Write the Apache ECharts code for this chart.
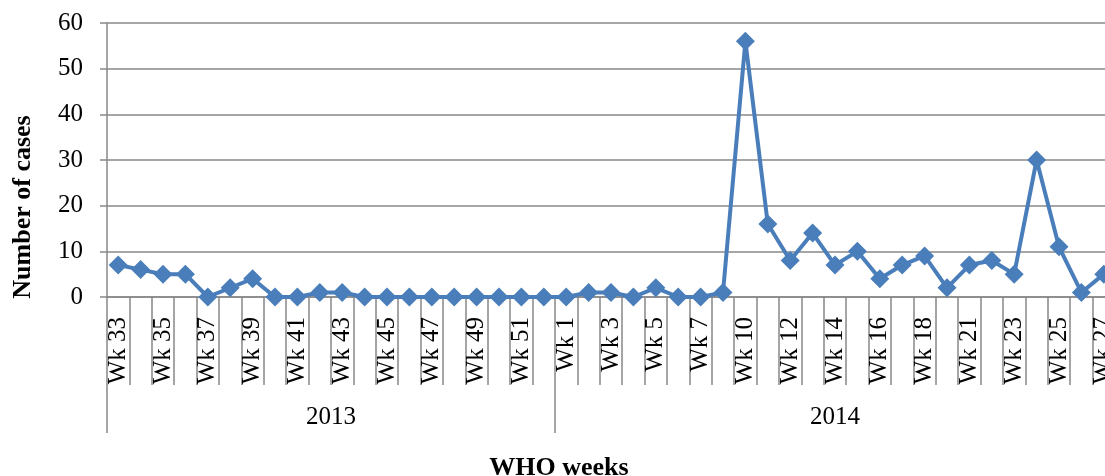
<!DOCTYPE html>
<html><head><meta charset="utf-8">
<script src="https://cdn.jsdelivr.net/npm/echarts@6/dist/echarts.min.js"></script>
<style>html,body{margin:0;padding:0;background:#fff;overflow:hidden}#c{width:1130px;height:476px}</style>
</head><body><div id="c"></div>
<script>
const weeks2013 = ['Wk 33','Wk 34','Wk 35','Wk 36','Wk 37','Wk 38','Wk 39','Wk 40','Wk 41','Wk 42','Wk 43','Wk 44','Wk 45','Wk 46','Wk 47','Wk 48','Wk 49','Wk 50','Wk 51','Wk 52'];
const weeks2014 = ['Wk 1','Wk 2','Wk 3','Wk 4','Wk 5','Wk 6','Wk 7','Wk 8','Wk 10','Wk 11','Wk 12','Wk 13','Wk 14','Wk 15','Wk 16','Wk 17','Wk 18','Wk 19','Wk 21','Wk 22','Wk 23','Wk 24','Wk 25','Wk 26','Wk 27'];
const cases2013 = [7,6,5,5,0,2,4,0,0,1,1,0,0,0,0,0,0,0,0,0];
const cases2014 = [0,1,1,0,2,0,0,1,56,16,8,14,7,10,4,7,9,2,7,8,5,30,11,1,5];
const years = ['2013','2014'];
const yMin = 0, yMax = 60, yStep = 10;
const yTitle = 'Number of cases';
const xTitle = 'WHO weeks';

const weeks = weeks2013.concat(weeks2014);
const cases = cases2013.concat(cases2014);
const total = weeks.length;
const b1 = weeks2013.length;
const yearCenters = [b1 / 2, b1 + weeks2014.length / 2];

const GRAY = '#888888';
const FONT = '"Liberation Serif", "Times New Roman", serif';

const chart = echarts.init(document.getElementById('c'), null, {renderer: 'canvas'});
chart.setOption({
  animation: false,
  backgroundColor: '#ffffff',
  grid: {left: 107, top: 23, width: 1008, height: 274, containLabel: false},
  xAxis: [{
    type: 'category',
    data: weeks,
    boundaryGap: true,
    axisLine: {show: true, lineStyle: {color: GRAY, width: 1.5}},
    axisTick: {show: true, interval: 0, length: 88, lineStyle: {color: GRAY, width: 1.5}},
    axisLabel: {interval: 1, rotate: 90, fontSize: 25, fontFamily: FONT, color: '#000', margin: 20},
    splitLine: {show: false}
  }, {
    type: 'value',
    position: 'bottom',
    min: 0, max: total,
    axisLine: {show: false},
    splitLine: {show: false},
    axisTick: {show: true, customValues: [0, b1, total], length: 136, lineStyle: {color: GRAY, width: 1.5}},
    axisLabel: {
      show: true, customValues: yearCenters, margin: 108,
      fontSize: 25, fontFamily: FONT, color: '#000',
      formatter: function (v) { return v < b1 ? years[0] : years[1]; }
    }
  }],
  yAxis: {
    type: 'value',
    min: yMin, max: yMax, interval: yStep,
    axisLine: {show: true, lineStyle: {color: GRAY, width: 1.5}},
    axisTick: {show: true, length: 7, lineStyle: {color: GRAY, width: 1.5}},
    axisLabel: {fontSize: 25, fontFamily: FONT, color: '#000', margin: 24},
    splitLine: {show: true, lineStyle: {color: GRAY, width: 1.5}}
  },
  series: [{
    type: 'line',
    xAxisIndex: 0,
    data: cases,
    symbol: 'diamond',
    symbolSize: 19,
    showAllSymbol: true,
    lineStyle: {color: '#4A7EBB', width: 4},
    itemStyle: {color: '#4A7EBB'},
    z: 5
  }],
  graphic: [{
    type: 'text',
    x: 23, y: 207,
    rotation: Math.PI / 2,
    style: {text: yTitle, fontSize: 26, fontWeight: 'bold', fontFamily: FONT, fill: '#000', textAlign: 'center', textVerticalAlign: 'middle'}
  }, {
    type: 'text',
    x: 559, y: 468,
    style: {text: xTitle, fontSize: 26, fontWeight: 'bold', fontFamily: FONT, fill: '#000', textAlign: 'center', textVerticalAlign: 'middle'}
  }]
});
</script>
</body></html>
